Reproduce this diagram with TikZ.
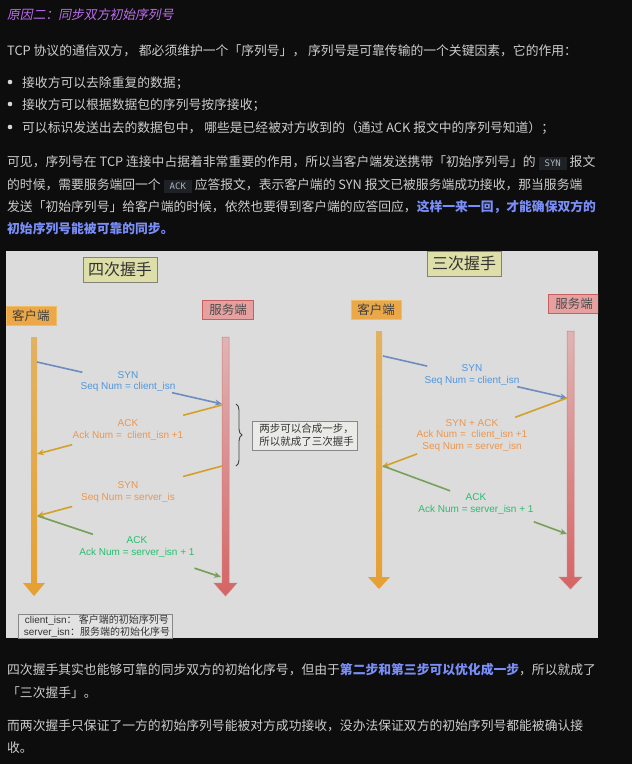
\documentclass[tikz,border=0pt]{standalone}
\usepackage{fontspec}
\setmainfont{Noto Sans CJK SC}
\setmonofont{DejaVu Sans Mono}
\newfontfamily\titlefont[FakeSlant=0.2]{Noto Sans CJK SC}
\newfontfamily\dfont{Liberation Sans}
\usetikzlibrary{arrows.meta,decorations.pathreplacing,calc}
\definecolor{pagebg}{RGB}{13,13,13}
\definecolor{bodyfg}{RGB}{205,205,205}
\definecolor{titlefg}{RGB}{190,110,240}
\definecolor{hlblue}{RGB}{122,142,250}
\definecolor{codebg}{RGB}{30,33,38}
\definecolor{codefg}{RGB}{170,180,190}
\definecolor{imgbg}{RGB}{220,220,220}
\definecolor{tboxfill}{RGB}{222,222,168}
\definecolor{tboxdraw}{RGB}{130,130,120}
\definecolor{cfill}{RGB}{234,168,72}
\definecolor{cdraw}{RGB}{240,188,100}
\definecolor{sfill}{RGB}{230,160,160}
\definecolor{sdraw}{RGB}{200,95,95}
\definecolor{synline}{RGB}{110,140,190}
\definecolor{syntext}{RGB}{80,150,220}
\definecolor{goldline}{RGB}{212,160,40}
\definecolor{orangetext}{RGB}{235,150,80}
\definecolor{greenline}{RGB}{120,160,90}
\definecolor{greentext}{RGB}{40,190,110}
\definecolor{boxdraw}{RGB}{135,135,135}
\definecolor{notefill}{RGB}{234,234,230}
\definecolor{legfill}{RGB}{226,226,226}
\newcommand\codebox[1]{{\setlength\fboxsep{0pt}\colorbox{codebg}{\rule[-4pt]{0pt}{13pt}\hspace{6pt}{\ttfamily\fontsize{9}{11}\selectfont\color{codefg}#1}\hspace{6pt}}}}
\newcommand\hl[1]{{\bfseries\color{hlblue}#1}}
\begin{document}
\begin{tikzpicture}[x=1pt,y=-1pt,
  txt/.style={anchor=base west, inner sep=0, text=bodyfg, font=\fontsize{12.8}{15}\selectfont},
  titlebox/.style={draw=tboxdraw, line width=0.8pt, fill=tboxfill, minimum width=74pt, minimum height=25pt, inner sep=0, text=black!80, font=\fontsize{16}{18}\selectfont},
  cbox/.style={draw=cdraw, line width=0.8pt, fill=cfill, minimum width=50pt, minimum height=19pt, inner sep=0, text=black!75, font=\fontsize{12.5}{14}\selectfont},
  sbox/.style={draw=sdraw, line width=0.8pt, fill=sfill, minimum width=51pt, minimum height=19pt, inner sep=0, text=black!70, font=\fontsize{12.5}{14}\selectfont},
  lbl/.style={align=center, inner sep=0, font=\dfont\fontsize{10}{11.5}\selectfont},
  msg/.style={line width=1.6pt},
  msgarrow/.style={line width=1.6pt, -{Stealth[length=7pt,width=6pt]}},
  notebox/.style={draw=boxdraw, line width=0.8pt, fill=notefill, align=left, inner sep=0, text=black!80, font=\fontsize{10.5}{13}\selectfont},
]
\useasboundingbox (0,0) rectangle (632,764);
\fill[pagebg] (0,0) rectangle (632,764);

% ---------- top text ----------
\node[txt, text=titlefg] (title) at (7,19) {\titlefont 原因二：同步双方初始序列号};
\node[txt] (p1) at (7,55) {TCP 协议的通信双方， 都必须维护一个「序列号」， 序列号是可靠传输的一个关键因素，它的作用：};
\fill[bodyfg!80] (10,82) circle (2.3) (10,104) circle (2.3) (10,127) circle (2.3);
\node[txt] (b1) at (22,87) {接收方可以去除重复的数据；};
\node[txt] (b2) at (22,109) {接收方可以根据数据包的序列号按序接收；};
\node[txt] (b3) at (22,132) {可以标识发送出去的数据包中， 哪些是已经被对方收到的（通过 ACK 报文中的序列号知道）；};
\node[txt] (q1) at (7,166) {可见，序列号在 TCP 连接中占据着非常重要的作用，所以当客户端发送携带「初始序列号」的 \codebox{SYN} 报文};
\node[txt] (q2) at (7,189) {的时候，需要服务端回一个 \codebox{ACK} 应答报文，表示客户端的 SYN 报文已被服务端成功接收，那当服务端};
\node[txt] (q3) at (7,211) {发送「初始序列号」给客户端的时候，依然也要得到客户端的应答回应，\hl{这样一来一回，才能确保双方的}};
\node[txt] (q4) at (7,233) {\hl{初始序列号能被可靠的同步。}};

% ---------- diagram ----------
\fill[imgbg] (6,251) rectangle (598,638);
\begin{scope}
\clip (6,251) rectangle (598,638);

\node[titlebox] (L4) at (120,269.5) {四次握手};
\node[titlebox] (R3) at (464,263.5) {三次握手};
\node[cbox] (Lc) at (31,315.5) {客户端};
\node[sbox] (Ls) at (228,309.5) {服务端};
\node[cbox] (Rc) at (376,309.5) {客户端};
\node[sbox] (Rs) at (574,303.5) {服务端};

% lifelines
\shade[top color={rgb,255:red,226;green,178;blue,96}, bottom color={rgb,255:red,230;green,160;blue,50}]
  (31,337) -- (37,337) -- (37,583) -- (45,583) -- (34,596) -- (23,583) -- (31,583) -- cycle;
\shade[top color={rgb,255:red,224;green,180;blue,180}, bottom color={rgb,255:red,214;green,100;blue,100}, draw={rgb,255:red,205;green,125;blue,125}, line width=0.5pt]
  (222,337) -- (229,337) -- (229,583) -- (237,583) -- (225.5,596) -- (214,583) -- (222,583) -- cycle;
\shade[top color={rgb,255:red,226;green,178;blue,96}, bottom color={rgb,255:red,230;green,160;blue,50}]
  (376,331) -- (382,331) -- (382,577) -- (390,577) -- (379,589) -- (368,577) -- (376,577) -- cycle;
\shade[top color={rgb,255:red,224;green,180;blue,180}, bottom color={rgb,255:red,214;green,100;blue,100}, draw={rgb,255:red,205;green,125;blue,125}, line width=0.5pt]
  (567,331) -- (574,331) -- (574,577) -- (582,577) -- (570.5,589) -- (559,577) -- (567,577) -- cycle;

% left messages
\coordinate (a1) at (37,362);  \coordinate (a2) at (222,404);
\coordinate (b1s) at (222,405); \coordinate (b2s) at (37,454);
\coordinate (c1) at (222,466); \coordinate (c2) at (37,516);
\coordinate (d1) at (38,516);  \coordinate (d2) at (221,577);
\draw[msg, synline] (a1) -- ($(a1)!0.245!(a2)$);
\draw[msgarrow, synline] ($(a1)!0.73!(a2)$) -- (a2);
\draw[msg, goldline] (b1s) -- ($(b1s)!0.21!(b2s)$);
\draw[msgarrow, goldline] ($(b1s)!0.81!(b2s)$) -- (b2s);
\draw[msg, goldline] (c1) -- ($(c1)!0.21!(c2)$);
\draw[msgarrow, goldline] ($(c1)!0.81!(c2)$) -- (c2);
\draw[msg, greenline] (d1) -- ($(d1)!0.30!(d2)$);
\draw[msgarrow, greenline] ($(d1)!0.855!(d2)$) -- (d2);
\node[lbl, text=syntext] (la) at (128,381.5) {SYN\\Seq Num = client\_isn};
\node[lbl, text=orangetext] (lb) at (128,430) {ACK\\Ack Num =\ \ client\_isn +1};
\node[lbl, text=orangetext] (lc) at (128,492) {SYN\\Seq Num = server\_is};
\node[lbl, text=greentext] (ld) at (137,547) {ACK\\Ack Num = server\_isn + 1};

% brace + note
\coordinate (br1) at (236,404); \coordinate (br2) at (236,466);
\draw[black!75, line width=0.9pt, decorate, decoration={brace, amplitude=6pt}] (br1) -- (br2);
\node[notebox, minimum width=105pt, minimum height=29pt] (note) at (304.5,435.5) {\hspace{4pt}两步可以合成一步，\\\hspace{4pt}所以就成了三次握手};

% right messages
\coordinate (e1) at (383,356); \coordinate (e2) at (567,398);
\coordinate (f1) at (567,398); \coordinate (f2) at (382,467);
\coordinate (g1) at (383,466); \coordinate (g2) at (567,534);
\draw[msg, synline] (e1) -- ($(e1)!0.24!(e2)$);
\draw[msgarrow, synline] ($(e1)!0.73!(e2)$) -- (e2);
\draw[msg, goldline] (f1) -- ($(f1)!0.28!(f2)$);
\draw[msgarrow, goldline] ($(f1)!0.81!(f2)$) -- (f2);
\draw[msg, greenline] (g1) -- ($(g1)!0.365!(g2)$);
\draw[msgarrow, greenline] ($(g1)!0.82!(g2)$) -- (g2);
\node[lbl, text=syntext] (ra) at (472,375) {SYN\\Seq Num = client\_isn};
\node[lbl, text=orangetext] (rb) at (472,435.5) {SYN + ACK\\Ack Num =\ \ client\_isn +1\\Seq Num = server\_isn};
\node[lbl, text=greentext] (rd) at (476,504) {ACK\\Ack Num = server\_isn + 1};

% legend
\node[notebox, fill=legfill, minimum width=154pt, minimum height=24pt, font=\fontsize{10}{11.5}\selectfont] (legend) at (95,626)
  {\hspace{5pt}{\dfont client\_isn}： 客户端的初始序列号\\\hspace{4pt}{\dfont server\_isn}：服务端的初始化序号};
\end{scope}

% ---------- bottom text ----------
\node[txt] (r1) at (7,674) {四次握手其实也能够可靠的同步双方的初始化序号，但由于\hl{第二步和第三步可以优化成一步}，所以就成了};
\node[txt] (r2) at (7,697) {「三次握手」。};
\node[txt] (r3) at (7,730) {而两次握手只保证了一方的初始序列号能被对方成功接收，没办法保证双方的初始序列号都能被确认接};
\node[txt] (r4) at (7,752) {收。};
\end{tikzpicture}
\end{document}
